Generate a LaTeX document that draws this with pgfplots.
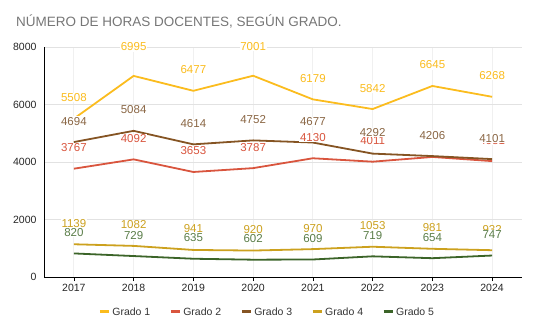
\documentclass[border=0pt]{standalone}
\usepackage{fontspec}
\setmainfont{Liberation Sans}
\usepackage{pgfplots}
\usepackage{pgfplotstable}
\pgfplotsset{compat=1.18}
\definecolor{g1}{HTML}{FBBC1E}
\definecolor{g2}{HTML}{D9553E}
\definecolor{g3}{HTML}{855423}
\definecolor{g3t}{HTML}{8A6644}
\definecolor{g4}{HTML}{CCA11E}
\definecolor{g5}{HTML}{3B6428}
\definecolor{g5t}{HTML}{5A7D48}
\definecolor{titlegray}{HTML}{767676}
\definecolor{gridc}{HTML}{E2E2E2}
\definecolor{vgridc}{HTML}{F0F0F0}
\pgfkeys{/pgf/number format/1000 sep={}}
\pgfplotstableread{
x    y    s
2017 5508 0
2018 6995 8
2019 6477 0
2020 7001 8
2021 6179 0
2022 5842 0
2023 6645 0
2024 6268 0
}\gone
\pgfplotstableread{
x    y
2017 3767
2018 4092
2019 3653
2020 3787
2021 4130
2022 4011
2023 4176
2024 4031
}\gtwo
\pgfplotstableread{
x    y
2017 4694
2018 5084
2019 4614
2020 4752
2021 4677
2022 4292
2023 4206
2024 4101
}\gthree
\pgfplotstableread{
x    y
2017 1139
2018 1082
2019 941
2020 920
2021 970
2022 1053
2023 981
2024 932
}\gfour
\pgfplotstableread{
x    y
2017 820
2018 729
2019 635
2020 602
2021 609
2022 719
2023 654
2024 747
}\gfive
\begin{document}
\begin{tikzpicture}
\useasboundingbox (0pt,0pt) rectangle (536pt,333pt);
\node[anchor=base west, text=titlegray, font=\fontsize{13.5}{15}\selectfont, inner sep=0pt] at (16pt,306pt) {NÚMERO DE HORAS DOCENTES, SEGÚN GRADO.};
\begin{axis}[
  at={(44pt,56pt)}, anchor=south west, scale only axis,
  width=478pt, height=230pt,
  xmin=2016.5, xmax=2024.5, ymin=0, ymax=8000,
  xtick={2017,...,2024}, ytick={0,2000,4000,6000,8000},
  axis x line*=bottom, axis y line*=left,
  axis line style={-, black, line width=0.8pt},
  tick align=outside, major tick length=4pt,
  tick style={black, line width=0.6pt},
  ytick style={draw=none},
  ymajorgrids, xmajorgrids,
  major grid style={gridc, line width=1pt},
  x grid style={vgridc, line width=0.8pt},
  tick label style={font=\fontsize{10.5}{12}\selectfont, text=black!85},
  /pgf/number format/assume math mode=true,
  /pgf/number format/1000 sep={},
  clip=false,
  every axis plot/.append style={line width=1.8pt, mark=none},
  lbl/.style={draw=none, forget plot, nodes near coords,
    nodes near coords style={anchor=center, yshift=21pt, fill=white, inner sep=0.6pt,
      font=\fontsize{11.5}{13}\selectfont, text=#1,
      /pgf/number format/assume math mode=true, /pgf/number format/1000 sep={}}},
  legend columns=5,
  legend style={at={(0.467,-0.152)}, anchor=center, draw=none, fill=none, font=\fontsize{10.5}{12}\selectfont, text=black!80, /tikz/every even column/.append style={column sep=17pt}},
  legend image code/.code={\draw[line width=3pt] (0pt,0pt) -- (9pt,0pt);},
]
\addplot[g1] table[x=x,y=y] {\gone};
\addlegendentry{Grado 1}
\addplot[g2] table[x=x,y=y] {\gtwo};
\addlegendentry{Grado 2}
\addplot[g3] table[x=x,y=y] {\gthree};
\addlegendentry{Grado 3}
\addplot[g4] table[x=x,y=y] {\gfour};
\addlegendentry{Grado 4}
\addplot[g5] table[x=x,y=y] {\gfive};
\addlegendentry{Grado 5}
\addplot[lbl=g1, visualization depends on={\thisrow{s}\as\myshift},
  nodes near coords style={yshift=\myshift pt}] table[x=x,y=y] {\gone};
\addplot[lbl=g2] table[x=x,y=y] {\gtwo};
\addplot[lbl=g3t] table[x=x,y=y] {\gthree};
\addplot[lbl=g4] table[x=x,y=y] {\gfour};
\addplot[lbl=g5t] table[x=x,y=y] {\gfive};
\end{axis}
\end{tikzpicture}
\end{document}
